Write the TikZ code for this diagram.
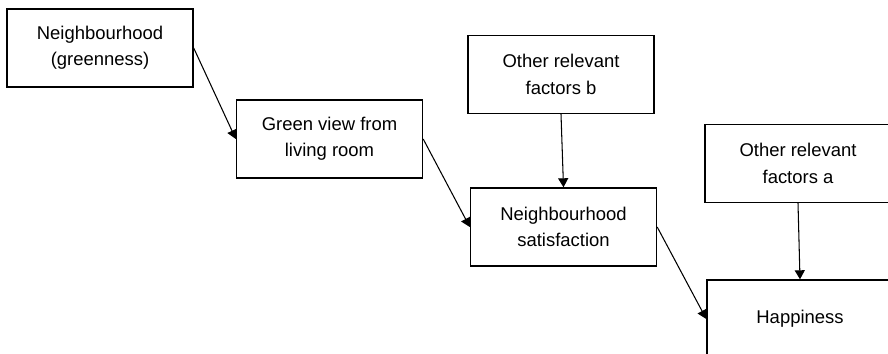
\documentclass[tikz,border=0pt]{standalone}
\usepackage{fontspec}
\setmainfont{Liberation Sans}
\usetikzlibrary{arrows.meta}

\begin{document}
\begin{tikzpicture}[
    box/.style={draw, thick, minimum width=3.72cm, minimum height=1.56cm, align=center, font=\fontsize{10.5}{15}\selectfont},
    link/.style={semithick, -{Triangle[length=0.18cm, width=0.2cm]}}
]

    % Page frame (right and bottom boxes run off the edge)
    \useasboundingbox (0,0) rectangle (17.76,7.06);
    \clip (0,0) rectangle (17.76,7.06);

    % Main chain
    \node[box] (greenness) at (2.00,6.10) {Neighbourhood\\(greenness)};
    \node[box] (view) at (6.59,4.28) {Green view from\\living room};
    \node[box] (satisfaction) at (11.27,2.52) {Neighbourhood\\satisfaction};
    \node[box] (happiness) at (16.00,0.68) {Happiness};

    % Other factors
    \node[box] (factorsb) at (11.22,5.57) {Other relevant\\factors b};
    \node[box] (factorsa) at (15.96,3.79) {Other relevant\\factors a};

    % Links
    \draw[link] (greenness.east) -- (view.west);
    \draw[link] (view.east) -- (satisfaction.west);
    \draw[link] (satisfaction.east) -- (happiness.west);
    \draw[link] (factorsb.south) -- (satisfaction.north);
    \draw[link] (factorsa.south) -- (happiness.north);
\end{tikzpicture}
\end{document}
